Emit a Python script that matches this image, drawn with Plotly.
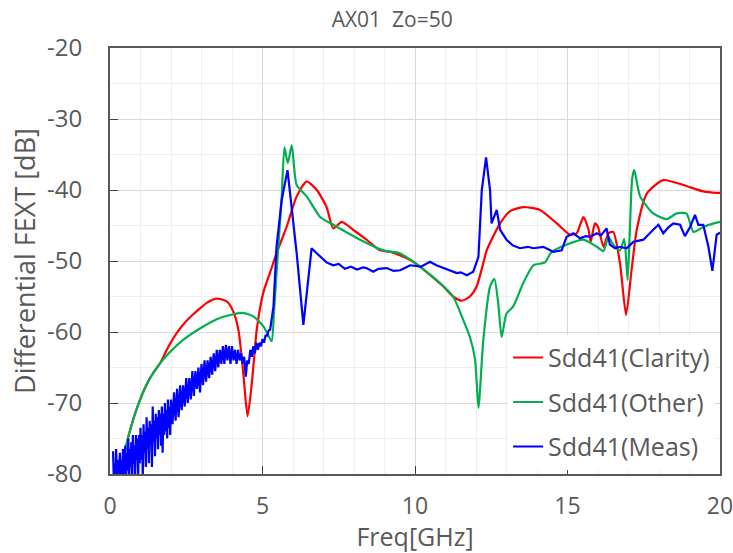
import plotly.graph_objects as go

# Sdd41 (Clarity) - simulated
clarity_f = [0.33, 0.66, 0.98, 1.31, 1.64, 1.9, 2.18, 2.45, 2.73, 3.0, 3.17, 3.5, 3.83, 4.04, 4.21, 4.37, 4.51,
             4.65, 4.81, 4.97, 5.05, 5.25, 5.46, 5.79, 6.12, 6.45, 6.78, 7.1, 7.32, 7.6, 7.97, 8.41, 8.85,
             9.18, 9.5, 9.94, 10.16, 10.5, 10.93, 11.25, 11.53, 11.8, 12.02, 12.24, 12.35, 12.79, 13.11,
             13.55, 14.1, 14.65, 15.08, 15.3, 15.52, 15.69, 15.76, 15.9, 16.0, 16.18, 16.34, 16.5, 16.72,
             16.92, 17.1, 17.27, 17.6, 18.14, 18.8, 19.45, 19.89, 20.0]
clarity_db = [-79.8, -73.8, -69.6, -66.5, -64.4, -62.2, -60.2, -58.7, -57.5, -56.5, -55.9, -55.3, -55.7, -57.1,
              -59.7, -65.8, -71.9, -67.2, -59.7, -55.5, -54.1, -51.6, -48.9, -45.2, -40.9, -38.8, -40.0, -42.4,
              -45.4, -44.5, -45.6, -47.0, -48.5, -48.7, -49.2, -50.1, -50.8, -52.0, -53.6, -55.0, -55.6, -55.0,
              -53.6, -50.3, -48.5, -44.7, -43.0, -42.4, -42.8, -44.7, -46.3, -46.1, -43.8, -45.6, -47.3, -44.7,
              -45.2, -48.0, -46.1, -45.9, -50.3, -57.6, -51.3, -45.6, -40.5, -38.6, -39.3, -40.2, -40.4, -40.4]

# Sdd41 (Other) - simulated
other_f = [0.33, 0.66, 0.98, 1.31, 1.64, 1.97, 2.4, 2.95, 3.5, 4.04, 4.37, 4.7, 5.03, 5.16, 5.3, 5.38, 5.46, 5.55,
           5.63, 5.72, 5.83, 5.96, 6.12, 6.45, 6.89, 7.32, 8.2, 8.96, 9.5, 9.94, 10.16, 10.82, 11.25, 11.58,
           11.8, 11.97, 12.08, 12.24, 12.46, 12.6, 12.73, 12.84, 13.0, 13.22, 13.55, 13.88, 14.26, 14.48,
           14.97, 15.52, 15.96, 16.18, 16.34, 16.5, 16.72, 16.86, 16.97, 17.05, 17.12, 17.19, 17.38, 17.81,
           18.25, 18.58, 18.9, 19.13, 19.45, 19.89, 20.0]
other_db = [-79.8, -73.8, -69.6, -66.5, -64.4, -62.8, -61.1, -59.5, -58.2, -57.5, -57.3, -57.8, -59.2, -60.2, -61.3,
            -57.0, -51.7, -46.0, -40.9, -34.0, -36.2, -33.7, -39.3, -40.9, -43.8, -44.9, -47.0, -48.5, -48.9,
            -50.1, -50.8, -53.1, -55.0, -58.3, -60.7, -63.9, -70.7, -61.1, -53.6, -52.5, -56.0, -60.7, -57.4,
            -56.4, -53.1, -50.6, -50.2, -48.7, -47.7, -47.0, -48.0, -48.6, -46.6, -47.7, -48.5, -46.9, -52.7,
            -45.0, -38.4, -37.2, -40.9, -43.3, -44.1, -43.3, -43.3, -45.9, -45.2, -44.6, -44.5]

# Sdd41 (Meas) - measured
meas_f = [0.1, 0.125, 0.15, 0.175, 0.2, 0.225, 0.25, 0.275, 0.3, 0.325, 0.35, 0.375, 0.4, 0.425, 0.45, 0.475,
          0.5, 0.525, 0.55, 0.575, 0.6, 0.625, 0.65, 0.675, 0.7, 0.725, 0.75, 0.775, 0.8, 0.825, 0.85, 0.875,
          0.9, 0.925, 0.95, 0.975, 1.0, 1.025, 1.05, 1.075, 1.1, 1.125, 1.15, 1.175, 1.2, 1.225, 1.25, 1.275,
          1.3, 1.325, 1.35, 1.375, 1.4, 1.425, 1.45, 1.475, 1.5, 1.525, 1.55, 1.575, 1.6, 1.625, 1.65, 1.675,
          1.7, 1.725, 1.75, 1.775, 1.8, 1.825, 1.85, 1.875, 1.9, 1.925, 1.95, 1.975, 2.0,
          2.05, 2.1, 2.15, 2.2, 2.25, 2.3, 2.35, 2.4, 2.45, 2.5, 2.55, 2.6, 2.65, 2.7, 2.75, 2.8, 2.85, 2.9,
          2.95, 3.0, 3.05, 3.1, 3.15, 3.2, 3.25, 3.3, 3.35, 3.4, 3.45, 3.5, 3.55, 3.6, 3.65, 3.7, 3.75, 3.8,
          3.85, 3.9, 3.95, 4.0, 4.05, 4.1, 4.15, 4.2, 4.25, 4.3, 4.35, 4.4, 4.45, 4.5, 4.55, 4.6, 4.65, 4.7,
          4.75, 4.8, 4.85, 4.9, 4.95, 5.0, 5.05, 5.1, 5.15, 5.2,
          5.25, 5.36, 5.46, 5.63, 5.82, 5.96, 6.12, 6.34, 6.5, 6.61, 6.75, 6.89, 7.1, 7.32, 7.5, 7.7, 7.9,
          8.1, 8.3, 8.41, 8.63, 8.8, 9.07, 9.3, 9.51, 9.7, 9.84, 10.2, 10.49, 10.7, 10.93, 11.1, 11.37, 11.5,
          11.7, 11.91, 12.08, 12.19, 12.33, 12.46, 12.51, 12.68, 12.79, 13.0, 13.2, 13.44, 13.7, 13.88, 14.21,
          14.53, 14.81, 14.97, 15.19, 15.41, 15.6, 15.74, 15.96, 16.1, 16.28, 16.39, 16.56, 16.72, 16.94,
          17.16, 17.49, 17.81, 17.98, 18.14, 18.3, 18.47, 18.69, 18.85, 19.02, 19.18, 19.29, 19.45, 19.62,
          19.75, 19.89, 20.0]
meas_db = [-76.8, -81, -78.5, -81, -76.5, -80.5, -78, -81, -79, -77, -81, -78, -80.5, -76.5, -81, -78.5,
           -76, -80.5, -77, -79.5, -75, -81, -76.5, -79, -75.5, -80.5, -74.5, -78.5, -76, -81, -74.5, -78,
           -75, -80, -74.5, -78.5, -73.5, -78, -74.5, -80.5, -73, -77, -74, -79, -72, -76.5, -73.5, -78.5,
           -72.5, -76, -73, -79, -70.5, -75.5, -72.5, -77.5, -71.5, -75, -72, -76.5, -71, -74.5, -71.5, -76,
           -70.5, -77, -71.5, -74.5, -70, -74, -71, -75, -69.5, -73.5, -70.5, -74.5, -69.5,
           -73, -68.5, -72.5, -68, -72, -67.5, -71, -67.5, -70.5, -66.5, -70, -66.5, -69.5, -65.5, -69, -65.5,
           -68, -65, -68.5, -64.5, -67.5, -64, -67, -64, -66.5, -63.5, -66, -63, -65.5, -62.5, -65, -62.5,
           -64.5, -62, -64.5, -61.8, -64, -62, -64.5, -62, -64, -62.5, -64.5, -62.5, -64, -63, -64.5, -63.5,
           -66.3, -64, -64.5, -62.5, -63.5, -62, -63, -61.5, -62.5, -61.5, -62, -61, -61.5, -60.5, -60.5, -59.8,
           -59.7, -56.4, -48.0, -41.4, -37.2, -42.4, -48.9, -59.0, -52.7, -48.2, -48.8, -49.4, -50.2, -50.6,
           -50.4, -51.1, -50.8, -51.2, -50.9, -51.0, -51.5, -51.1, -51.0, -51.4, -51.3, -50.9, -50.6, -50.8,
           -50.1, -50.6, -51.0, -51.2, -51.7, -51.6, -52.0, -51.5, -49.4, -40.0, -35.4, -40.0, -44.7, -42.8,
           -45.6, -47.0, -47.8, -48.2, -48.0, -48.2, -48.0, -48.7, -48.5, -46.6, -46.1, -46.8, -46.5, -46.6,
           -46.1, -46.4, -45.4, -47.7, -48.2, -48.0, -48.2, -47.3, -47.0, -45.6, -44.9, -46.1, -45.3, -44.7,
           -44.9, -46.5, -45.2, -43.5, -44.9, -44.9, -48.0, -51.4, -46.3, -46.0]

y_ticks = [-80, -70, -60, -50, -40, -30, -20]
y_labels = ['-80', '-70', '-60', '-50', '-40', '-30', '-20']
x_ticks = [0, 5, 10, 15, 20]

grey = '#595959'
font = 'Open Sans, Noto Sans, sans-serif'

fig = go.Figure()
fig.add_trace(go.Scatter(x=clarity_f, y=clarity_db, mode='lines', name='Sdd41(Clarity)', legendgroup='a',
                         line=dict(color='#ff0000', width=2.2, shape='spline', smoothing=0.6)))
fig.add_trace(go.Scatter(x=other_f, y=other_db, mode='lines', name='Sdd41(Other)', legendgroup='b',
                         line=dict(color='#00b050', width=2.2, shape='spline', smoothing=0.6)))
fig.add_trace(go.Scatter(x=meas_f, y=meas_db, mode='lines', name='Sdd41(Meas)', legendgroup='c',
                         line=dict(color='#0000ff', width=2.2)))

fig.update_layout(
    width=733, height=553,
    paper_bgcolor='white', plot_bgcolor='white',
    margin=dict(l=110, r=13, t=48, b=79),
    font=dict(family=font, color=grey),
    title=dict(text='AX01  Zo=50', x=0.535, xanchor='center', y=0.964, yanchor='middle',
               font=dict(size=21, color=grey)),
    legend=dict(x=0.992, xanchor='right', y=0.01, yanchor='bottom', bgcolor='white',
                font=dict(size=25, color=grey), itemwidth=30, traceorder='grouped', tracegroupgap=9),
)
fig.update_xaxes(range=[0, 20], tickmode='array', tickvals=x_ticks, tickfont=dict(size=23, color=grey),
                 title=dict(text='Freq[GHz]', font=dict(size=25, color=grey), standoff=8),
                 automargin=False, ticklabelstandoff=10, ticklabeloverflow='allow',
                 showline=True, linecolor=grey, linewidth=2, mirror=True,
                 ticks='inside', ticklen=8, tickcolor='#404040',
                 showgrid=True, gridcolor='#d9d9d9', gridwidth=1, zeroline=False,
                 minor=dict(dtick=1, showgrid=True, gridcolor='#efefef', ticks=''))
fig.update_yaxes(range=[-80, -20], tickmode='array', tickvals=y_ticks, ticktext=y_labels,
                 tickfont=dict(size=24, color=grey),
                 title=dict(text='Differential FEXT [dB]', font=dict(size=27, color=grey), standoff=4),
                 automargin=False, ticklabelstandoff=21, ticklabeloverflow='allow',
                 showline=True, linecolor=grey, linewidth=2, mirror=True,
                 ticks='inside', ticklen=8, tickcolor='#404040',
                 showgrid=True, gridcolor='#d9d9d9', gridwidth=1, zeroline=False,
                 minor=dict(dtick=5, showgrid=True, gridcolor='#efefef', ticks=''))

# drop the default page margin so the 733x553 figure fills the window exactly
fig.write_html('out.html', config={'displayModeBar': False},
               post_script="document.body.style.margin='0';")
